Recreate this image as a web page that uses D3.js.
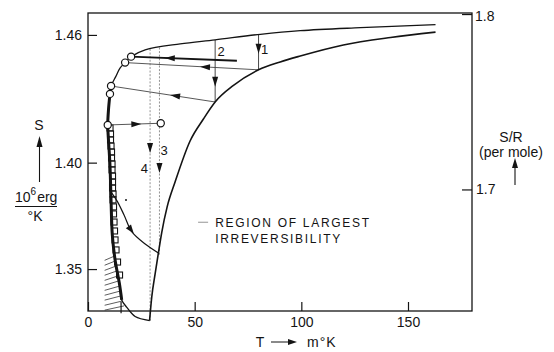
<!DOCTYPE html>
<html>
<head>
<meta charset="utf-8">
<script src="https://cdn.jsdelivr.net/npm/d3@7"></script>
<style>
  body { margin: 0; background: #fff; }
  svg { font-family: "Liberation Sans", Arial, Helvetica, sans-serif; }
</style>
</head>
<body>
<svg width="554" height="352"></svg>
<script>
// Curve A: from the bottom of the hatched region, up the steep left branch and along the top
const curveAT = [28.9, 22.1, 18.2, 15.8, 14.7, 12.7, 11.4, 10.8, 10.3, 9.6, 9.25, 9.6, 10.3,
  10.8, 13.0, 15.0, 17.4, 20.2, 26.8, 43.2, 59.6, 80.8, 99.5, 127.7, 162.9];
const curveAS = [1.3258, 1.3277, 1.3320, 1.3355, 1.3433, 1.3543, 1.3660, 1.3825, 1.3989, 1.4107, 1.4177, 1.4248, 1.4323,
  1.4360, 1.4404, 1.4444, 1.4470, 1.4498, 1.4530, 1.4558, 1.4577, 1.4603, 1.4620, 1.4634, 1.4648];

// Curve B: lower right branch
const curveBT = [28.87, 29.9, 31.46, 33.0, 34.6, 37.1, 40.85, 47.9, 54.1, 59.6, 68.2, 79.95, 90.1, 99.5, 119.7, 141.8, 162.9];
const curveBS = [1.3258, 1.3370, 1.3477, 1.3576, 1.3674, 1.3792, 1.3910, 1.4103, 1.4205, 1.4285, 1.4363, 1.4436,
  1.4473, 1.4501, 1.4553, 1.4588, 1.4613];

// open circles (measured states)
const circleT = [20.2, 17.4, 10.8, 10.3, 9.25, 34.1];
const circleS = [1.4498, 1.4470, 1.4360, 1.4323, 1.4177, 1.4185];

// horizontal process lines
const pathFromT = [20.2, 17.4, 10.8, 9.25];
const pathFromS = [1.4498, 1.4470, 1.4360, 1.4177];
const pathToT = [69.8, 80.0, 59.6, 34.1];
const pathToS = [1.4479, 1.4436, 1.4285, 1.4185];
const pathArrowT = [36.0, 52.5, 38.5, 25.0];

// vertical steps 1..4
const stepNames = ['1', '2', '3', '4'];
const stepT = [79.95, 59.6, 29.1, 33.5];
const stepTopS = [1.4603, 1.4577, 1.4534, 1.4541];
const stepBottomS = [1.4436, 1.4285, 1.3258, 1.3565];
const stepArrowS = [1.4511, 1.4356, 1.4045, 1.3951];
const stepLabelS = [1.4511, 1.4501, 1.4036, 1.3951];

// irreversible path from the left branch onto curve B
const arcT = [11.1, 13.8, 16.9, 20.5, 26.8, 33.0];
const arcS = [1.3858, 1.3817, 1.3754, 1.3676, 1.3618, 1.3576];

// small boxes along the steep branch (centres)
const boxT = [10.33, 10.56, 10.56, 10.80, 11.03, 11.03, 11.27, 11.27, 11.50, 11.50, 11.50,
  11.74, 11.74, 11.97, 11.97, 12.21, 12.44, 12.68, 13.15, 13.85, 14.79];
const boxS = [1.4163, 1.4135, 1.4107, 1.4078, 1.4050, 1.4022, 1.3994, 1.3966, 1.3937, 1.3909, 1.3881,
  1.3853, 1.3825, 1.3792, 1.3759, 1.3721, 1.3679, 1.3637, 1.3590, 1.3533, 1.3472];

// hatching left of the branch (right ends of each stroke)
const hatchT = [12.4, 12.8, 13.1, 13.5, 13.8, 14.3, 14.8, 15.2, 15.5, 16.1, 16.9];
const hatchS = [1.3561, 1.3538, 1.3514, 1.3491, 1.3467, 1.3444, 1.3420, 1.3397, 1.3374, 1.3350, 1.3327];
const hatchLeftT = 7.8;
const hatchDrop = 0.0020;

const xTicks = [0, 50, 100, 150];
const yTicks = [1.35, 1.40, 1.46];
const yRightTicks = [1.7, 1.8];

const svg = d3.select('svg');
const width = +svg.attr('width');
const height = +svg.attr('height');
const margin = { top: 13, right: 82, bottom: 41, left: 88 };
const innerWidth = width - margin.left - margin.right;
const innerHeight = height - margin.top - margin.bottom;
const ink = '#141414';

const xScale = d3.scaleLinear().domain([0, 180]).range([0, innerWidth]);
const yScale = d3.scaleLinear().domain([1.3303, 1.4703]).range([innerHeight, 0]);
const yRight = d3.scaleLinear().domain([1.6307, 1.8006]).range([innerHeight, 0]);

const g = svg.append('g').attr('transform', `translate(${margin.left},${margin.top})`);

// axes, ticks pointing inward
const styleAxis = (sel) => {
  sel.attr('font-family', null).attr('font-size', null);
  sel.select('.domain').remove();
  sel.selectAll('line').attr('stroke', ink).attr('stroke-width', 1.2);
  sel.selectAll('text').attr('fill', ink).attr('font-size', 14);
};
g.append('g')
  .call(d3.axisLeft(yScale).tickValues(yTicks).tickFormat(d3.format('.2f')).tickSize(-9).tickPadding(6))
  .call(styleAxis);
g.append('g')
  .attr('transform', `translate(${innerWidth},0)`)
  .call(d3.axisRight(yRight).tickValues(yRightTicks).tickFormat(d3.format('.1f')).tickSize(-10).tickPadding(4))
  .call(styleAxis);
g.append('g')
  .attr('transform', `translate(0,${innerHeight})`)
  .call(d3.axisBottom(xScale).tickValues(xTicks).tickSize(-9).tickPadding(6))
  .call(styleAxis);
g.selectAll('.tick text').filter((d) => d === 1.8).attr('dy', '0.45em').attr('x', 3);

g.append('rect')
  .attr('width', innerWidth).attr('height', innerHeight)
  .attr('fill', 'none').attr('stroke', ink).attr('stroke-width', 1.3);

// helpers
const line = d3.line().x((d) => xScale(d[0])).y((d) => yScale(d[1])).curve(d3.curveCatmullRom.alpha(0.5));
const smooth = d3.line().x((d) => xScale(d[0])).y((d) => yScale(d[1])).curve(d3.curveMonotoneX);
const straight = d3.line().x((d) => xScale(d[0])).y((d) => yScale(d[1]));
const arrowHead = (x, y, angle, len = 9, half = 3) => {
  g.append('path')
    .attr('d', `M0,0L${-len},${-half}L${-len},${half}Z`)
    .attr('transform', `translate(${x},${y}) rotate(${angle})`)
    .attr('fill', ink);
};

const curveA = curveAT.map((t, i) => [t, curveAS[i]]);
const curveB = curveBT.map((t, i) => [t, curveBS[i]]);

// hatching
hatchT.forEach((t, i) => {
  g.append('path')
    .attr('d', straight([[hatchLeftT, hatchS[i] - hatchDrop], [t, hatchS[i]]]))
    .attr('stroke', '#333').attr('stroke-width', 0.8).attr('fill', 'none');
});

// boxes
g.selectAll('rect.box')
  .data(boxT.map((t, i) => [t, boxS[i]]))
  .enter().append('rect')
  .attr('class', 'box')
  .attr('x', (d) => xScale(d[0]) - 3)
  .attr('y', (d) => yScale(d[1]) - 3)
  .attr('width', 6).attr('height', 6)
  .attr('fill', 'none').attr('stroke', ink).attr('stroke-width', 1.1);

// dotted vertical steps 3, 4 and solid steps 1, 2
stepT.forEach((t, i) => {
  const dotted = i >= 2;
  g.append('path')
    .attr('d', straight([[t, stepTopS[i]], [t, stepBottomS[i]]]))
    .attr('stroke', dotted ? '#888' : '#333')
    .attr('stroke-width', 0.9)
    .attr('stroke-dasharray', dotted ? '2,1.6' : null)
    .attr('fill', 'none');
  arrowHead(xScale(t), yScale(stepArrowS[i]), 90, 10, 3);
  const dx = [6, 6, 14, -15][i];
  g.append('text')
    .attr('x', xScale(t) + dx).attr('y', yScale(stepLabelS[i]))
    .attr('text-anchor', 'middle').attr('font-size', 13).attr('fill', ink)
    .text(stepNames[i]);
});

// horizontal process lines
pathFromT.forEach((t, i) => {
  const p0 = [t, pathFromS[i]];
  const p1 = [pathToT[i], pathToS[i]];
  g.append('path')
    .attr('d', straight([p0, p1]))
    .attr('stroke', i === 0 ? ink : '#444')
    .attr('stroke-width', i === 0 ? 1.9 : 0.9)
    .attr('fill', 'none');
  const x0 = xScale(p0[0]), y0 = yScale(p0[1]), x1 = xScale(p1[0]), y1 = yScale(p1[1]);
  const f = (pathArrowT[i] - p0[0]) / (p1[0] - p0[0]);
  const ax = x0 + f * (x1 - x0), ay = y0 + f * (y1 - y0);
  const dir = i === 3 ? Math.atan2(y1 - y0, x1 - x0) : Math.atan2(y0 - y1, x0 - x1);
  arrowHead(ax, ay, dir * 180 / Math.PI, 10, 3);
});

// irreversible arc
g.append('path')
  .attr('d', line(arcT.map((t, i) => [t, arcS[i]])))
  .attr('stroke', ink).attr('stroke-width', 1.2).attr('fill', 'none');
{
  const ax = xScale(arcT[3]) + 2, ay = yScale(arcS[3]) + 2;
  const ang = Math.atan2(yScale(arcS[4]) - yScale(arcS[2]), xScale(arcT[4]) - xScale(arcT[2]));
  arrowHead(ax, ay, ang * 180 / Math.PI, 9, 3.2);
}
g.append('circle').attr('cx', xScale(17.8)).attr('cy', yScale(1.3825)).attr('r', 1).attr('fill', ink);

// main curves
g.append('path').attr('d', line(curveA)).attr('stroke', ink).attr('stroke-width', 1.3).attr('fill', 'none');
g.append('path').attr('d', line(curveA.slice(3, 13))).attr('stroke', ink).attr('stroke-width', 3).attr('fill', 'none');
g.append('path').attr('d', smooth(curveB)).attr('stroke', ink).attr('stroke-width', 1.6).attr('fill', 'none');

// small mark crossing the T axis
g.append('path')
  .attr('d', straight([[15.5, 1.3345], [15.5, 1.3292]]))
  .attr('stroke', ink).attr('stroke-width', 1.2);

// open circles
g.selectAll('circle.state')
  .data(circleT.map((t, i) => [t, circleS[i]]))
  .enter().append('circle')
  .attr('class', 'state')
  .attr('cx', (d) => xScale(d[0])).attr('cy', (d) => yScale(d[1]))
  .attr('r', 3.6).attr('fill', '#fff').attr('stroke', ink).attr('stroke-width', 1.2);

// annotation
const note = g.append('g').attr('font-size', 12).attr('fill', ink).attr('letter-spacing', 1.7);
note.append('text').attr('x', xScale(59.6)).attr('y', yScale(1.3699)).text('REGION OF LARGEST');
note.append('text').attr('x', xScale(59.6)).attr('y', yScale(1.3624)).text('IRREVERSIBILITY');
g.append('line')
  .attr('x1', xScale(51.6)).attr('x2', xScale(56.3))
  .attr('y1', yScale(1.3720)).attr('y2', yScale(1.3720))
  .attr('stroke', '#777').attr('stroke-width', 0.8);

// outer labels
const lab = svg.append('g').attr('fill', ink).attr('font-size', 14);
lab.append('text').attr('x', 260).attr('y', 347).attr('text-anchor', 'middle').text('T');
lab.append('line').attr('x1', 271).attr('x2', 290).attr('y1', 342).attr('y2', 342).attr('stroke', ink).attr('stroke-width', 1);
lab.append('path').attr('d', 'M297,342L288,339L288,345Z');
lab.append('text').attr('x', 307).attr('y', 347).attr('letter-spacing', 1).text('m°K');

lab.append('text').attr('x', 39).attr('y', 130).attr('text-anchor', 'middle').text('S');
lab.append('line').attr('x1', 39.5).attr('x2', 39.5).attr('y1', 145).attr('y2', 182).attr('stroke', ink).attr('stroke-width', 1.1);
lab.append('path').attr('d', 'M39.5,136L36.5,147L42.5,147Z');
const unit = lab.append('text').attr('x', 15).attr('y', 202);
unit.append('tspan').text('10');
unit.append('tspan').attr('dy', -7).attr('font-size', 10).text('6');
unit.append('tspan').attr('dy', 7).attr('dx', 1).text('erg');
lab.append('line').attr('x1', 15).attr('x2', 57).attr('y1', 206.5).attr('y2', 206.5).attr('stroke', ink).attr('stroke-width', 1);
lab.append('text').attr('x', 35).attr('y', 221).attr('text-anchor', 'middle').text('°K');

lab.append('text').attr('x', 511).attr('y', 142).attr('text-anchor', 'middle').text('S/R');
lab.append('text').attr('x', 511).attr('y', 157).attr('text-anchor', 'middle').text('(per mole)');
lab.append('line').attr('x1', 515).attr('x2', 515).attr('y1', 165).attr('y2', 185).attr('stroke', ink).attr('stroke-width', 1.1);
lab.append('path').attr('d', 'M515,158L512,168L518,168Z');
</script>
</body>
</html>
